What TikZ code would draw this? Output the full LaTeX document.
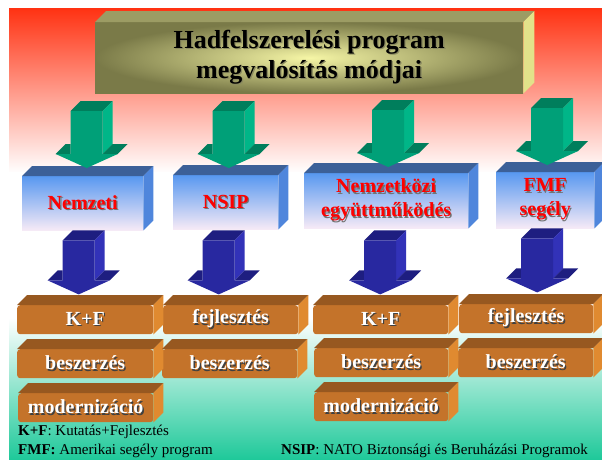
\documentclass[tikz,border=0pt]{standalone}
\usepackage{fontspec}
\setmainfont{Liberation Serif}
\usepackage{xcolor}
\usetikzlibrary{calc}

\definecolor{bgred}{HTML}{FF3212}
\definecolor{bggreen}{HTML}{1FC99A}
\definecolor{olivedark}{HTML}{7A7A48}
\definecolor{olivelight}{HTML}{F6F6A6}
\definecolor{olivetop}{HTML}{9C9C64}
\definecolor{oliveside}{HTML}{E2E28A}
\definecolor{titleshade}{HTML}{8A8A60}
\definecolor{boxblue}{HTML}{5898F0}
\definecolor{boxpale}{HTML}{F6EAF6}
\definecolor{boxtop}{HTML}{3C6098}
\definecolor{boxside}{HTML}{4F86DC}
\definecolor{brick}{HTML}{C4732A}
\definecolor{bricktop}{HTML}{975820}
\definecolor{brickside}{HTML}{E08A30}
\definecolor{arrgreen}{HTML}{00A078}
\definecolor{arrgreenside}{HTML}{00B688}
\definecolor{arrgreentop}{HTML}{007E5C}
\definecolor{arrblue}{HTML}{2828A0}
\definecolor{arrblueside}{HTML}{3232B8}
\definecolor{arrbluetop}{HTML}{1E1E80}

% text with a soft drop shadow
\newcommand{\shad}[2]{\makebox[0pt][l]{\kern1.3pt\raisebox{-1.3pt}{\color{#1}#2}}#2}

% top and right faces of a box node
\newcommand{\boxfaces}[4]{%
  \fill[#2] (#1.north west) -- ++(#4,-#4) -- ($(#1.north east)+(#4,-#4)$) -- (#1.north east) -- cycle;
  \fill[#3] (#1.north east) -- ++(#4,-#4) -- ($(#1.south east)+(#4,-#4)$) -- (#1.south east) -- cycle;
}

% 3D block arrow pointing down to #2, shaft length #3
\newcommand{\blockarrow}[3]{%
  \coordinate (tip) at #2;
  \fill[#1 top] ($(tip)+(-16,-#3)$) -- ++(10,-10) -- ++(32,0) -- ++(-10,10) -- cycle;
  \fill[#1 side] ($(tip)+(16,-#3)$) -- ++(10,-10) -- ($(tip)+(26,-24)$) -- ($(tip)+(16,-14)$) -- cycle;
  \fill[#1 top] ($(tip)+(16,-14)$) -- ++(10,-10) -- ++(15,0) -- ++(-10,10) -- cycle;
  \fill[#1 top] ($(tip)+(-31,-14)$) -- ++(10,-10) -- ++(5,0) -- ++(0,10) -- cycle;
  \fill[#1 front] ($(tip)+(-16,-#3)$) -- ++(32,0) -- ($(tip)+(16,-14)$) -- ($(tip)+(31,-14)$)
    -- (tip) -- ($(tip)+(-31,-14)$) -- ($(tip)+(-16,-14)$) -- cycle;
}

\tikzset{
  title box/.style={anchor=north west, inner sep=0pt, minimum width=428, minimum height=71,
    inner color=olivelight, outer color=olivedark, align=center,
    font=\fontsize{26}{30}\selectfont\bfseries},
  kind box/.style={anchor=north west, inner sep=0pt, top color=boxblue, bottom color=boxpale,
    text=red, align=center, font=\fontsize{20}{24}\selectfont\bfseries},
  task box/.style={anchor=north west, inner sep=0pt, minimum height=29, fill=brick,
    rounded corners=3pt, text=white, font=\fontsize{20}{24}\selectfont\bfseries},
  legend/.style={anchor=west, inner sep=0pt, font=\fontsize{15}{18}\selectfont},
  green front/.style={fill=arrgreen},
  green side/.style={fill=arrgreenside},
  green top/.style={fill=arrgreentop},
  blue front/.style={fill=arrblue},
  blue side/.style={fill=arrblueside},
  blue top/.style={fill=arrbluetop}
}

\begin{document}
\begin{tikzpicture}[x=1pt,y=-1pt]
% Background
\fill[white] (0,0) rectangle (602,459);
\useasboundingbox (0,0) rectangle (602,459);
\shade[top color=bgred, bottom color=white] (9,8) rectangle (602,173);
\fill[white] (9,172) rectangle (602,319);
\shade[top color=white, bottom color=bggreen] (9,318) rectangle (602,459);

% Title
\node[title box] (title) at (95,22)
  {\shad{titleshade}{Hadfelszerelési program}\\\shad{titleshade}{megvalósítás módjai}};
\boxfaces{title}{olivetop}{oliveside}{11}

% Kinds of programme
\node[kind box, minimum width=121, minimum height=54] (nemzeti) at (22,176) {\shad{black!55}{Nemzeti}};
\node[kind box, minimum width=105, minimum height=54] (nsip) at (173,175) {\shad{black!55}{NSIP}};
\node[kind box, minimum width=164, minimum height=55] (nemzk) at (304,173)
  {\shad{black!55}{Nemzetközi}\\\shad{black!55}{együttműködés}};
\node[kind box, minimum width=98, minimum height=56] (fmf) at (496,172)
  {\shad{black!55}{FMF}\\\shad{black!55}{segély}};
\boxfaces{nemzeti}{boxtop}{boxside}{10}
\boxfaces{nsip}{boxtop}{boxside}{10}
\boxfaces{nemzk}{boxtop}{boxside}{10}
\boxfaces{fmf}{boxtop}{boxside}{10}

% Arrows from the title
\blockarrow{green}{($(nemzeti.north)+(4,-8)$)}{57}
\blockarrow{green}{($(nsip.north)+(3,-7)$)}{57}
\blockarrow{green}{($(nemzk.north)+(2,-6)$)}{57}
\blockarrow{green}{($(fmf.north)+(2,-7)$)}{57}

% Arrows to the tasks
\blockarrow{blue}{($(nemzeti.south)+(-4,64)$)}{54}
\blockarrow{blue}{($(nsip.south)+(-7,65)$)}{54}
\blockarrow{blue}{($(nemzk.south)+(-6,66)$)}{54}
\blockarrow{blue}{($(fmf.south)+(-8,64)$)}{54}

% Tasks
\node[task box, minimum width=136] (kf1) at (17,305) {\shad{black!75}{K+F}};
\node[task box, minimum width=136] (besz1) at (17,349) {\shad{black!75}{beszerzés}};
\node[task box, minimum width=135] (mod1) at (18,393) {\shad{black!75}{modernizáció}};
\node[task box, minimum width=135] (fejl2) at (163,305) {\shad{black!75}{fejlesztés}};
\node[task box, minimum width=135] (besz2) at (162,349) {\shad{black!75}{beszerzés}};
\node[task box, minimum width=135] (kf3) at (313,305) {\shad{black!75}{K+F}};
\node[task box, minimum width=134] (besz3) at (314,348) {\shad{black!75}{beszerzés}};
\node[task box, minimum width=134] (mod3) at (314,392) {\shad{black!75}{modernizáció}};
\node[task box, minimum width=134] (fejl4) at (459,304) {\shad{black!75}{fejlesztés}};
\node[task box, minimum width=135] (besz4) at (458,348) {\shad{black!75}{beszerzés}};
\boxfaces{kf1}{bricktop}{brickside}{10}
\boxfaces{besz1}{bricktop}{brickside}{10}
\boxfaces{mod1}{bricktop}{brickside}{10}
\boxfaces{fejl2}{bricktop}{brickside}{10}
\boxfaces{besz2}{bricktop}{brickside}{10}
\boxfaces{kf3}{bricktop}{brickside}{10}
\boxfaces{besz3}{bricktop}{brickside}{10}
\boxfaces{mod3}{bricktop}{brickside}{10}
\boxfaces{fejl4}{bricktop}{brickside}{10}
\boxfaces{besz4}{bricktop}{brickside}{10}

% Legend
\node[legend] (leg1) at (18,432) {\textbf{K+F}: Kutatás+Fejlesztés};
\node[legend] (leg2) at (18,451) {\textbf{FMF:} Amerikai segély program};
\node[legend] (leg3) at (281,451) {\textbf{NSIP}: NATO Biztonsági és Beruházási Programok};
\end{tikzpicture}
\end{document}
